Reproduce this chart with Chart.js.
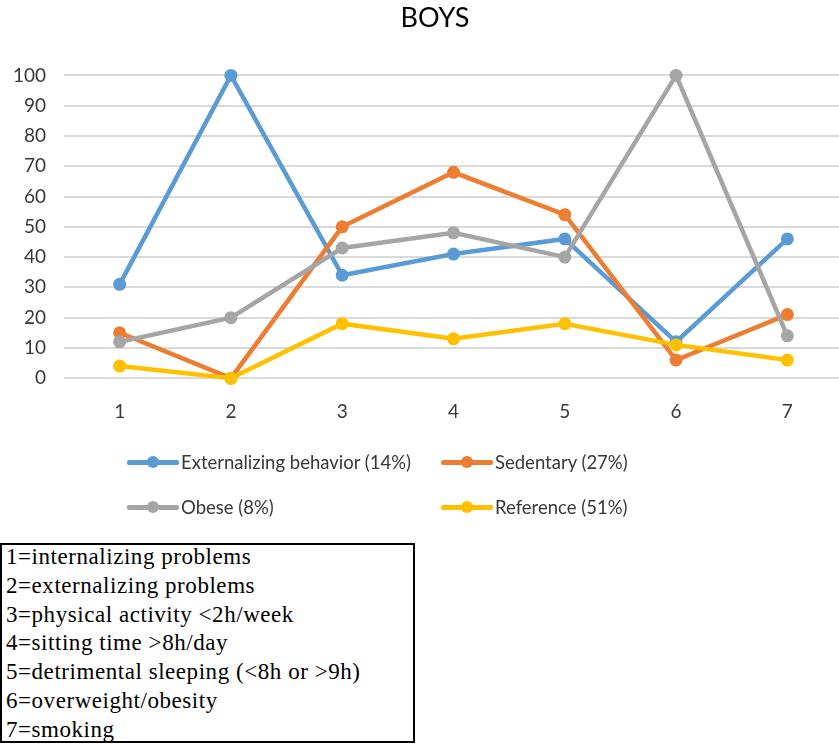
<!DOCTYPE html>
<html>
<head>
<meta charset="utf-8">
<script src="https://cdn.jsdelivr.net/npm/chart.js@4/dist/chart.umd.min.js"></script>
<style>
  html, body { margin: 0; padding: 0; background: #fff; overflow: hidden; }
  #wrap { position: relative; width: 839px; height: 744px; overflow: hidden; }
  #chartBox { position: absolute; left: 0; top: 0; width: 870px; height: 453px; }
  #legend { position: absolute; left: 0; top: 0; width: 839px; height: 540px; pointer-events: none; }
  .lg-item { position: absolute; display: flex; align-items: center; font-family: Lato, "Open Sans", sans-serif; font-size: 18.5px; color: #383838; white-space: nowrap; transform: translateY(-50%); }
  .lg-icon { position: relative; width: 52px; height: 14px; margin-right: 2px; }
  .lg-icon .ln { position: absolute; left: 0; right: 0; top: 4.5px; height: 5px; border-radius: 2px; }
  .lg-icon .dt { position: absolute; left: 20px; top: 1px; width: 12px; height: 12px; border-radius: 50%; }
  #key { position: absolute; left: 0; top: 543px; width: 407px; height: 196px; border: 2px solid #000; font-family: "Liberation Serif", "Times New Roman", serif; font-size: 23px; letter-spacing: 0.55px; line-height: 28.8px; color: #000; padding: 0 0 0 4px; box-sizing: content-box; white-space: nowrap; }
  #key .lines { position: relative; top: -2px; }
</style>
</head>
<body>
<div id="wrap">
  <div id="chartBox"><canvas id="c" width="870" height="453"></canvas></div>
  <div id="legend"></div>
  <div id="key"><div class="lines"></div></div>
</div>
<script>
// Categories on the x axis and what each number stands for
const categories = ['1', '2', '3', '4', '5', '6', '7'];
const categoryNames = [
  '1=internalizing problems',
  '2=externalizing problems',
  '3=physical activity <2h/week',
  '4=sitting time >8h/day',
  '5=detrimental sleeping (<8h or >9h)',
  '6=overweight/obesity',
  '7=smoking'
];

// Series values (percent)
const externalizingValues = [31, 100, 34, 41, 46, 12, 46];
const sedentaryValues     = [15, 0, 50, 68, 54, 6, 21];
const obeseValues         = [12, 20, 43, 48, 40, 100, 14];
const referenceValues     = [4, 0, 18, 13, 18, 11, 6];

const seriesLabels = ['Externalizing behavior (14%)', 'Sedentary (27%)', 'Obese (8%)', 'Reference (51%)'];
const seriesColors = ['#5B9BD5', '#ED7D31', '#A5A5A5', '#FFC000'];
const yTicks = [0, 10, 20, 30, 40, 50, 60, 70, 80, 90, 100];

const seriesValues = [externalizingValues, sedentaryValues, obeseValues, referenceValues];

const datasets = seriesValues.map((vals, i) => ({
  label: seriesLabels[i],
  data: vals,
  borderColor: seriesColors[i],
  backgroundColor: seriesColors[i],
  borderWidth: 4.5,
  pointRadius: 6.5,
  pointHoverRadius: 6.5,
  pointBorderWidth: 0,
  tension: 0,
  clip: false,
  order: 4 - i   // later series are painted on top
}));

// Shift the title so it sits centred over the plotted lines
const titleShift = {
  id: 'titleShift',
  afterLayout(chart) {
    const t = chart.titleBlock;
    if (t) { t.left = 0; t.right = 870; }
  }
};

// Legend built as HTML from the chart's datasets, two per row
const htmlLegend = {
  id: 'htmlLegend',
  afterUpdate(chart) {
    const box = document.getElementById('legend');
    box.innerHTML = '';
    const colX = [127, 441];
    const rowY = [462, 507];
    chart.data.datasets.forEach((ds, i) => {
      const item = document.createElement('div');
      item.className = 'lg-item';
      item.style.left = colX[i % 2] + 'px';
      item.style.top = rowY[Math.floor(i / 2)] + 'px';
      const icon = document.createElement('span');
      icon.className = 'lg-icon';
      const ln = document.createElement('span');
      ln.className = 'ln';
      ln.style.background = ds.borderColor;
      const dt = document.createElement('span');
      dt.className = 'dt';
      dt.style.background = ds.borderColor;
      icon.appendChild(ln);
      icon.appendChild(dt);
      const txt = document.createElement('span');
      txt.textContent = ds.label;
      item.appendChild(icon);
      item.appendChild(txt);
      box.appendChild(item);
    });
  }
};

document.querySelector('#key .lines').innerHTML = categoryNames
  .map(s => '<div>' + s.replace(/</g, '&lt;').replace(/>/g, '&gt;') + '</div>').join('');

new Chart(document.getElementById('c'), {
  type: 'line',
  data: { labels: categories, datasets },
  plugins: [titleShift, htmlLegend],
  options: {
    responsive: false,
    animation: false,
    layout: { padding: { left: 0, right: 27, top: 0, bottom: 8 } },
    plugins: {
      legend: { display: false },
      tooltip: { enabled: false },
      title: {
        display: true,
        text: 'BOYS',
        color: '#000',
        font: { family: 'Lato, "Open Sans", sans-serif', size: 27, weight: 'normal' },
        padding: { top: 2, bottom: 41 }
      }
    },
    scales: {
      x: {
        offset: true,
        grid: { display: false, drawTicks: false },
        border: { display: false },
        ticks: { color: '#383838', font: { family: 'Lato, "Open Sans", sans-serif', size: 19 }, padding: 22 }
      },
      y: {
        min: 0,
        max: 100,
        afterBuildTicks(scale) { scale.ticks = yTicks.map(v => ({ value: v })); },
        afterFit(scale) { scale.width = 64; },
        grid: { color: '#D9D9D9', lineWidth: 2, drawTicks: false },
        border: { display: false },
        ticks: { color: '#383838', font: { family: 'Lato, "Open Sans", sans-serif', size: 19 }, padding: 18 }
      }
    }
  }
});
</script>
</body>
</html>
